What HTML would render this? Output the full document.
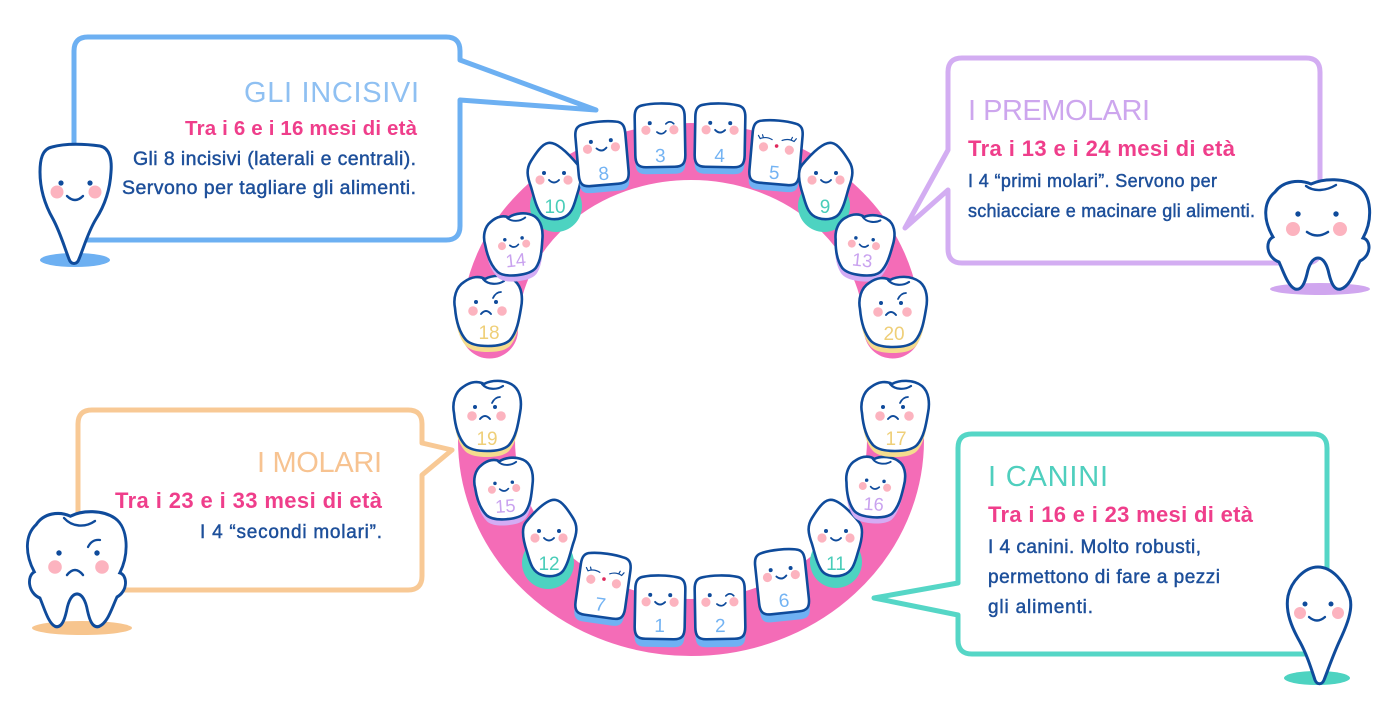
<!DOCTYPE html>
<html><head><meta charset="utf-8"><style>
html,body{margin:0;padding:0;background:#fff;}
svg{display:block;}
text{font-family:"Liberation Sans",sans-serif;}
.n{font-size:19px;text-anchor:middle;}
.t{font-size:29px;}
.p{font-size:22px;font-weight:bold;fill:#ef3e8b;}
.b{font-size:19px;fill:#1d4f9a;stroke:#1d4f9a;stroke-width:0.45;}
</style></head><body>
<svg width="1400" height="725" viewBox="0 0 1400 725" xmlns="http://www.w3.org/2000/svg">
<defs>
<path id="inc" d="M -17,-31 C -7,-33 7,-33 17,-31 C 23,-30 25,-26 25,-19 L 25,19 C 25,28 22,31 14,31 L -14,31 C -22,31 -25,28 -25,19 L -25,-19 C -25,-26 -23,-30 -17,-31 Z"/>
<path id="can" d="M -6,-38 C 2,-40 14,-28 24,-16 C 29,-10 27,2 23,14 C 20,24 18,34 8,37 C 2,39 -8,39 -13,33 C -18,26 -20,16 -23,6 C -27,-5 -28,-12 -23,-20 C -18,-28 -12,-37 -6,-38 Z"/>
<path id="mol" d="M -24,-28 C -16,-34 -8,-34 -3,-31 C 4,-35 18,-36 27,-29 C 34,-23 35,-12 33,-2 C 31,10 29,22 22,30 C 17,35 8,36 0,36 C -8,36 -17,35 -22,30 C -29,22 -32,10 -33,-2 C -35,-12 -32,-23 -24,-28 Z"/>
<path id="crease" d="M -5,-31 C 0,-25 10,-25 16,-29" fill="none" stroke="#0f4b9b" stroke-width="2.2" stroke-linecap="round"/>
<g id="fs">
<circle cx="-14" cy="7" r="4.6" fill="#fcb3bf"/><circle cx="14" cy="7" r="4.6" fill="#fcb3bf"/>
<circle cx="-10" cy="0" r="2" fill="#0f4b9b"/><circle cx="10" cy="0" r="2" fill="#0f4b9b"/>
<path d="M -5,7 Q 0,12 5,7" fill="none" stroke="#0f4b9b" stroke-width="1.9" stroke-linecap="round"/>
</g>
<g id="fw">
<circle cx="-14" cy="7" r="4.6" fill="#fcb3bf"/><circle cx="14" cy="7" r="4.6" fill="#fcb3bf"/>
<circle cx="-10" cy="0" r="2" fill="#0f4b9b"/>
<path d="M 6,1 Q 10,-3 14,1" fill="none" stroke="#0f4b9b" stroke-width="1.6" stroke-linecap="round"/>
<path d="M -3,9 Q 2,13 6,8" fill="none" stroke="#0f4b9b" stroke-width="1.7" stroke-linecap="round"/>
</g>
<g id="fc">
<circle cx="-13" cy="8" r="4.6" fill="#fcb3bf"/><circle cx="13" cy="9" r="4.6" fill="#fcb3bf"/>
<path d="M -17,0 Q -11,-3 -5,0 M 5,0 Q 11,-3 17,0 M -17,0 L -19,-3 M -14,-1.5 L -15,-4 M 17,0 L 19,-3 M 14,-1.5 L 15,-4" fill="none" stroke="#0f4b9b" stroke-width="1.2" stroke-linecap="round"/>
<circle cx="0" cy="6" r="1.8" fill="#e02a5c"/>
</g>
<g id="ff">
<circle cx="-14" cy="9" r="4.8" fill="#fcb3bf"/><circle cx="15" cy="9" r="4.8" fill="#fcb3bf"/>
<circle cx="-11" cy="0" r="2" fill="#0f4b9b"/><circle cx="9" cy="0" r="2" fill="#0f4b9b"/>
<path d="M 6,-4 Q 9,-10 14,-10" fill="none" stroke="#0f4b9b" stroke-width="1.8" stroke-linecap="round"/>
<path d="M -6,12 Q -1,6 4,12" fill="none" stroke="#0f4b9b" stroke-width="1.9" stroke-linecap="round"/>
</g>
<path id="molchar" d="M -44,12 C -36,1 -20,-1 -8,4 C 5,-2 26,-2 39,6 C 53,15 54,40 44,58 C 52,60 53,75 41,81 C 35,93 31,106 22,109 C 15,111 12,102 10,94 C 8,84 4,78 -1,78 C -6,78 -10,84 -12,94 C -14,102 -17,111 -24,109 C -31,106 -35,93 -40,82 C -53,77 -54,61 -46,57 C -56,40 -56,22 -44,12 Z"/>
</defs>
<rect width="1400" height="725" fill="#fff"/>

<!-- speech bubbles -->
<g fill="#fff" stroke-width="5" stroke-linejoin="round">
<path stroke="#6db0f2" d="M 88,37 H 446 Q 460,37 460,51 V 60 L 596,110 L 460,100 V 226 Q 460,240 446,240 H 88 Q 74,240 74,226 V 51 Q 74,37 88,37 Z"/>
<path stroke="#d3adf2" d="M 962,58 H 1306 Q 1320,58 1320,72 V 249 Q 1320,263 1306,263 H 962 Q 948,263 948,249 V 190 L 905,228 L 948,150 V 72 Q 948,58 962,58 Z"/>
<path stroke="#f8c995" d="M 92,410 H 408 Q 422,410 422,424 V 443 L 452,450 L 422,475 V 576 Q 422,590 408,590 H 92 Q 78,590 78,576 V 424 Q 78,410 92,410 Z"/>
<path stroke="#55d6c6" d="M 972,434 H 1313 Q 1327,434 1327,448 V 640 Q 1327,654 1313,654 H 972 Q 958,654 958,640 V 615 L 874,598 L 958,583 V 448 Q 958,434 972,434 Z"/>
</g>

<!-- texts -->
<text class="t" x="244" y="102" fill="#8fc0f2" textLength="175">GLI INCISIVI</text>
<text class="p" x="185" y="135" style="font-size:20.5px" textLength="232">Tra i 6 e i 16 mesi di età</text>
<text class="b" x="133" y="165" style="font-size:19.5px" textLength="283">Gli 8 incisivi (laterali e centrali).</text>
<text class="b" x="122" y="194" style="font-size:19.5px" textLength="294">Servono per tagliare gli alimenti.</text>

<text class="t" x="968" y="120" fill="#cda6ee" textLength="182">I PREMOLARI</text>
<text class="p" x="968" y="156" textLength="267">Tra i 13 e i 24 mesi di età</text>
<text class="b" x="968" y="187" style="font-size:18px" textLength="249">I 4 “primi molari”. Servono per</text>
<text class="b" x="968" y="217" style="font-size:18px" textLength="287">schiacciare e macinare gli alimenti.</text>

<text class="t" x="257" y="472" fill="#f7c391" textLength="125">I MOLARI</text>
<text class="p" x="115" y="508" textLength="267">Tra i 23 e i 33 mesi di età</text>
<text class="b" x="200" y="538" textLength="182">I 4 “secondi molari”.</text>

<text class="t" x="988" y="486" fill="#4fcfbe" textLength="120">I CANINI</text>
<text class="p" x="988" y="522" textLength="265">Tra i 16 e i 23 mesi di età</text>
<text class="b" x="988" y="553" textLength="213">I 4 canini. Molto robusti,</text>
<text class="b" x="988" y="583" textLength="232">permettono di fare a pezzi</text>
<text class="b" x="988" y="613" textLength="105">gli alimenti.</text>

<!-- gums -->
<path d="M 489.5,330 A 201.5,178.5 0 0 1 892.5,330" fill="none" stroke="#f46cb7" stroke-width="57" stroke-linecap="round"/>
<path d="M 486.5,440 A 204.5,187.5 0 0 0 895.5,440" fill="none" stroke="#f46cb7" stroke-width="57" stroke-linecap="round"/>

<!-- canine teal bases -->
<circle cx="556" cy="206" r="26" fill="#4dd3c1"/>
<circle cx="824" cy="206" r="26" fill="#4dd3c1"/>
<circle cx="548" cy="563" r="26" fill="#4dd3c1"/>
<circle cx="836" cy="562" r="26" fill="#4dd3c1"/>

<!-- UPPER TEETH -->
<g transform="translate(488,310)">
<use href="#mol" fill="#f5dc8e" transform="translate(0,6)"/>
<use href="#mol" fill="#fff" stroke="#0f4b9b" stroke-width="2.6"/>
<use href="#crease"/><use href="#ff" transform="translate(-1,-8)"/>
<text class="n" x="1" y="29" fill="#efcf78">18</text>
</g>
<g transform="translate(514,244) rotate(-6) scale(0.87)">
<use href="#mol" fill="#d4acf4" transform="translate(0,7)"/>
<use href="#mol" fill="#fff" stroke="#0f4b9b" stroke-width="3"/>
<use href="#crease"/><use href="#fs" transform="translate(0,-6)"/>
<text class="n" x="0" y="26" style="font-size:21px" fill="#c9a2ef">14</text>
</g>
<g transform="translate(554,181)">
<use href="#can" fill="#fff" stroke="#0f4b9b" stroke-width="2.6"/>
<use href="#fs" transform="translate(0,-8)"/>
<text class="n" x="1" y="32" fill="#49cdb9">10</text>
</g>
<g transform="translate(602,154) rotate(-5)">
<use href="#inc" fill="#6fb1f3" transform="translate(0,7)"/>
<use href="#inc" fill="#fff" stroke="#0f4b9b" stroke-width="2.6"/>
<use href="#fs" transform="translate(0,-13)"/>
<text class="n" x="0" y="26" fill="#73b3f3">8</text>
</g>
<g transform="translate(660,136) rotate(-1)">
<use href="#inc" fill="#6fb1f3" transform="translate(0,7)"/>
<use href="#inc" fill="#fff" stroke="#0f4b9b" stroke-width="2.6"/>
<use href="#fw" transform="translate(0,-13)"/>
<text class="n" x="0" y="26" fill="#73b3f3">3</text>
</g>
<g transform="translate(720,136) rotate(1)">
<use href="#inc" fill="#6fb1f3" transform="translate(0,7)"/>
<use href="#inc" fill="#fff" stroke="#0f4b9b" stroke-width="2.6"/>
<use href="#fs" transform="translate(0,-13)"/>
<text class="n" x="0" y="26" fill="#73b3f3">4</text>
</g>
<g transform="translate(776,153) rotate(5)">
<use href="#inc" fill="#6fb1f3" transform="translate(0,7)"/>
<use href="#inc" fill="#fff" stroke="#0f4b9b" stroke-width="2.6"/>
<use href="#fc" transform="translate(0,-13)"/>
<text class="n" x="0" y="26" fill="#73b3f3">5</text>
</g>
<g transform="translate(826,181)">
<use href="#can" fill="#fff" stroke="#0f4b9b" stroke-width="2.6" transform="scale(-1,1)"/>
<use href="#fs" transform="translate(0,-8)"/>
<text class="n" x="-1" y="32" fill="#49cdb9">9</text>
</g>
<g transform="translate(864,244) rotate(6) scale(0.87)">
<use href="#mol" fill="#d4acf4" transform="translate(0,7)"/>
<use href="#mol" fill="#fff" stroke="#0f4b9b" stroke-width="3"/>
<use href="#crease"/><use href="#fs" transform="translate(0,-6)"/>
<text class="n" x="0" y="26" style="font-size:21px" fill="#c9a2ef">13</text>
</g>
<g transform="translate(893,311)">
<use href="#mol" fill="#f5dc8e" transform="translate(0,6)"/>
<use href="#mol" fill="#fff" stroke="#0f4b9b" stroke-width="2.6"/>
<use href="#crease"/><use href="#ff" transform="translate(-1,-8)"/>
<text class="n" x="1" y="29" fill="#efcf78">20</text>
</g>

<!-- LOWER TEETH -->
<g transform="translate(487,415)">
<use href="#mol" fill="#f5dc8e" transform="translate(0,6)"/>
<use href="#mol" fill="#fff" stroke="#0f4b9b" stroke-width="2.6"/>
<use href="#crease"/><use href="#ff" transform="translate(-1,-8)"/>
<text class="n" x="0" y="30" fill="#efcf78">19</text>
</g>
<g transform="translate(504,488) rotate(-4) scale(0.87)">
<use href="#mol" fill="#d4acf4" transform="translate(0,7)"/>
<use href="#mol" fill="#fff" stroke="#0f4b9b" stroke-width="3"/>
<use href="#crease"/><use href="#fs" transform="translate(0,-6)"/>
<text class="n" x="0" y="28" style="font-size:21px" fill="#c9a2ef">15</text>
</g>
<g transform="translate(550,538)">
<use href="#can" fill="#fff" stroke="#0f4b9b" stroke-width="2.6" transform="scale(-1,1)"/>
<use href="#fs" transform="translate(-1,-7)"/>
<text class="n" x="-1" y="32" fill="#49cdb9">12</text>
</g>
<g transform="translate(603,586) rotate(8)">
<use href="#inc" fill="#6fb1f3" transform="translate(0,7)"/>
<use href="#inc" fill="#fff" stroke="#0f4b9b" stroke-width="2.6"/>
<use href="#fc" transform="translate(0,-13)"/>
<text class="n" x="0" y="25" fill="#73b3f3">7</text>
</g>
<g transform="translate(660,608) rotate(1)">
<use href="#inc" fill="#6fb1f3" transform="translate(0,8)"/>
<use href="#inc" fill="#fff" stroke="#0f4b9b" stroke-width="2.6"/>
<use href="#fs" transform="translate(0,-13)"/>
<text class="n" x="0" y="24" fill="#73b3f3">1</text>
</g>
<g transform="translate(720,608) rotate(-1)">
<use href="#inc" fill="#6fb1f3" transform="translate(0,8)"/>
<use href="#inc" fill="#fff" stroke="#0f4b9b" stroke-width="2.6"/>
<use href="#fw" transform="translate(0,-13)"/>
<text class="n" x="0" y="24" fill="#73b3f3">2</text>
</g>
<g transform="translate(782,582) rotate(-6)">
<use href="#inc" fill="#6fb1f3" transform="translate(0,8)"/>
<use href="#inc" fill="#fff" stroke="#0f4b9b" stroke-width="2.6"/>
<use href="#fs" transform="translate(0,-13)"/>
<text class="n" x="0" y="25" fill="#73b3f3">6</text>
</g>
<g transform="translate(835,538)">
<use href="#can" fill="#fff" stroke="#0f4b9b" stroke-width="2.6"/>
<use href="#fs" transform="translate(1,-7)"/>
<text class="n" x="1" y="32" fill="#49cdb9">11</text>
</g>
<g transform="translate(875,486) rotate(4) scale(0.87)">
<use href="#mol" fill="#d4acf4" transform="translate(0,7)"/>
<use href="#mol" fill="#fff" stroke="#0f4b9b" stroke-width="3"/>
<use href="#crease"/><use href="#fs" transform="translate(0,-6)"/>
<text class="n" x="0" y="28" style="font-size:21px" fill="#c9a2ef">16</text>
</g>
<g transform="translate(895,415)">
<use href="#mol" fill="#f5dc8e" transform="translate(0,6)"/>
<use href="#mol" fill="#fff" stroke="#0f4b9b" stroke-width="2.6"/>
<use href="#crease"/><use href="#ff" transform="translate(-1,-8)"/>
<text class="n" x="1" y="30" fill="#efcf78">17</text>
</g>

<!-- CHARACTERS -->
<!-- top-left incisor -->
<ellipse cx="75" cy="260" rx="35" ry="7" fill="#6db0f2"/>
<path d="M 52,147 C 66,143 86,144 100,146 C 110,148 112,160 111,172 C 110,190 105,205 96,219 C 88,232 84,247 79,259 C 77,265 71,265 69,259 C 64,246 60,232 53,219 C 45,205 40,190 40,172 C 40,160 42,149 52,147 Z" fill="#fff" stroke="#0f4b9b" stroke-width="3"/>
<circle cx="57" cy="192" r="6.5" fill="#fcb3bf"/><circle cx="95" cy="192" r="6.5" fill="#fcb3bf"/>
<circle cx="61" cy="183" r="2.6" fill="#0f4b9b"/><circle cx="90" cy="183" r="2.6" fill="#0f4b9b"/>
<path d="M 67,196 Q 75,204 83,196" fill="none" stroke="#0f4b9b" stroke-width="2.4" stroke-linecap="round"/>

<!-- top-right molar -->
<ellipse cx="1320" cy="289" rx="50" ry="6" fill="#d0a6ef"/>
<use href="#molchar" transform="translate(1319,180)" fill="#fff" stroke="#0f4b9b" stroke-width="3"/>
<path d="M 1306,186 C 1314,192 1326,191 1336,185" fill="none" stroke="#0f4b9b" stroke-width="2.4" stroke-linecap="round"/>
<circle cx="1293" cy="229" r="7" fill="#fcb3bf"/><circle cx="1340" cy="229" r="7" fill="#fcb3bf"/>
<circle cx="1298" cy="214" r="2.7" fill="#0f4b9b"/><circle cx="1336" cy="214" r="2.7" fill="#0f4b9b"/>
<path d="M 1307,232 Q 1317,239 1328,232" fill="none" stroke="#0f4b9b" stroke-width="2.5" stroke-linecap="round"/>

<!-- bottom-left molar -->
<ellipse cx="82" cy="628" rx="50" ry="7" fill="#f7c58e"/>
<use href="#molchar" transform="translate(78,512) scale(0.95,1.05)" fill="#fff" stroke="#0f4b9b" stroke-width="3"/>
<path d="M 64,518 C 72,527 85,528 95,521" fill="none" stroke="#0f4b9b" stroke-width="2.4" stroke-linecap="round"/>
<circle cx="55" cy="567" r="6.8" fill="#fcb3bf"/><circle cx="102" cy="567" r="6.8" fill="#fcb3bf"/>
<circle cx="59" cy="553" r="2.7" fill="#0f4b9b"/><circle cx="97" cy="553" r="2.7" fill="#0f4b9b"/>
<path d="M 88,547 Q 92,539 100,540" fill="none" stroke="#0f4b9b" stroke-width="2.3" stroke-linecap="round"/>
<path d="M 67,575 Q 75,565 83,575" fill="none" stroke="#0f4b9b" stroke-width="2.5" stroke-linecap="round"/>

<!-- bottom-right canine -->
<ellipse cx="1317" cy="678" rx="33" ry="7" fill="#4dd3c1"/>
<path d="M 1318,567 C 1332,567 1345,582 1350,598 C 1353,610 1347,625 1340,640 C 1333,655 1328,670 1324,680 C 1322,685 1317,685 1315,680 C 1311,668 1307,655 1300,642 C 1292,628 1285,612 1288,596 C 1291,582 1304,567 1318,567 Z" fill="#fff" stroke="#0f4b9b" stroke-width="3"/>
<circle cx="1300" cy="613" r="6" fill="#fcb3bf"/><circle cx="1338" cy="613" r="6" fill="#fcb3bf"/>
<circle cx="1305" cy="604" r="2.5" fill="#0f4b9b"/><circle cx="1331" cy="604" r="2.5" fill="#0f4b9b"/>
<path d="M 1309,617 Q 1317,624 1325,617" fill="none" stroke="#0f4b9b" stroke-width="2.3" stroke-linecap="round"/>
</svg>
</body></html>
